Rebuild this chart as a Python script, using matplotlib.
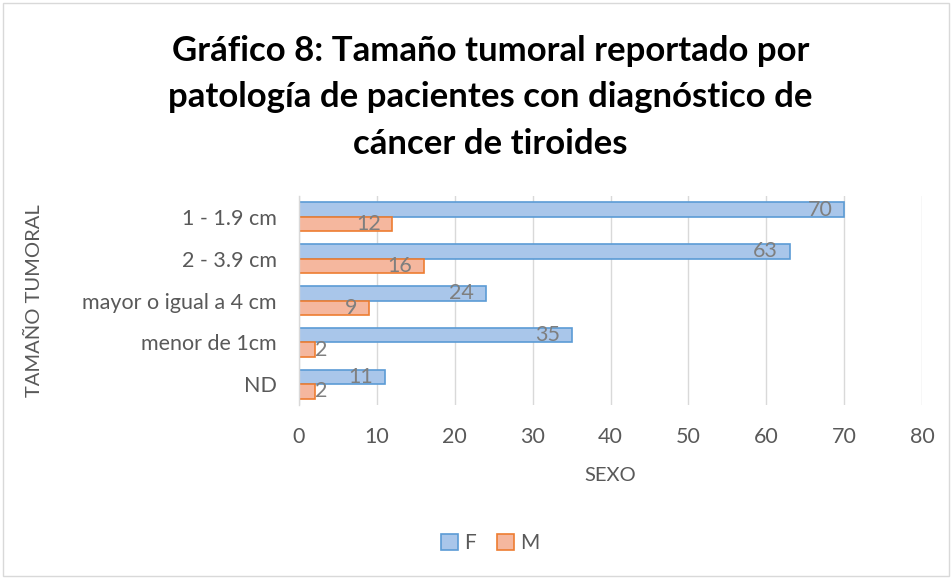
import numpy as np
import matplotlib
matplotlib.use("Agg")
import matplotlib.pyplot as plt
from matplotlib.patches import Rectangle, Patch

plt.rcParams["font.family"] = ["Lato", "DejaVu Sans"]

categories = ["1 - 1.9 cm", "2 - 3.9 cm", "mayor o igual a 4 cm", "menor de 1cm", "ND"]
f_values = [70, 63, 24, 35, 11]
m_values = [12, 16, 9, 2, 2]
series_names = ["F", "M"]
x_ticks = [0, 10, 20, 30, 40, 50, 60, 70, 80]

title = ("Gráfico 8: Tamaño tumoral reportado por\n"
         "patología de pacientes con diagnóstico de\n"
         "cáncer de tiroides")

GREY = "#595959"
LABEL_GREY = "#7f7f7f"
BLUE_FILL, BLUE_EDGE = "#a9c6ea", "#5b9bd5"
ORANGE_FILL, ORANGE_EDGE = "#f5b79e", "#ed7d31"

fig = plt.figure(figsize=(9.52, 5.78), dpi=100)
fig.patches.append(Rectangle((0.003, 0.004), 0.994, 0.99, transform=fig.transFigure,
                             fill=False, edgecolor="#d9d9d9", linewidth=1.0))

ax = fig.add_axes([0.3141, 0.2993, 0.6544, 0.3616])

y = np.arange(len(categories))
h = 0.347
ax.barh(y - h / 2, f_values, height=h, color=BLUE_FILL,
        edgecolor=BLUE_EDGE, linewidth=1.2, zorder=3)
ax.barh(y + h / 2, m_values, height=h, color=ORANGE_FILL,
        edgecolor=ORANGE_EDGE, linewidth=1.2, zorder=3)

ax.set_xlim(0, 80)
ax.set_ylim(len(categories) - 0.5, -0.5)
ax.set_xticks(x_ticks)
ax.set_yticks(y)
ax.set_yticklabels(categories)
ax.tick_params(axis="both", length=0, labelsize=15.5, labelcolor=GREY)
ax.tick_params(axis="x", pad=16)
ax.tick_params(axis="y", pad=16)
ax.grid(axis="x", color="#d9d9d9", linewidth=1.0, zorder=0)
for side in ["top", "right", "bottom"]:
    ax.spines[side].set_visible(False)
ax.spines["left"].set_color("#d9d9d9")
ax.spines["left"].set_linewidth(1.0)
ax.spines["left"].set_zorder(4)

ax.set_xlabel("SEXO", fontsize=14.5, color=GREY, labelpad=14)
ax.set_ylabel("TAMAÑO TUMORAL", fontsize=14.5, color=GREY, labelpad=28)

# data labels, "inside end" like Excel
for yy, vals in [(y - h / 2, f_values), (y + h / 2, m_values)]:
    for yi, v in zip(yy, vals):
        if v >= 5:
            ax.text(v - 1.5, yi, str(v), ha="right", va="center",
                    fontsize=15.5, color=LABEL_GREY, zorder=5)
        else:
            ax.text(v + 0.1, yi, str(v), ha="left", va="center",
                    fontsize=15.5, color=LABEL_GREY, zorder=5)

fig.text(0.515, 0.832, title, ha="center", va="center", fontsize=25,
         fontweight="bold", color="black", linespacing=1.56)

handles = [Patch(facecolor=BLUE_FILL, edgecolor=BLUE_EDGE, linewidth=1.2),
           Patch(facecolor=ORANGE_FILL, edgecolor=ORANGE_EDGE, linewidth=1.2)]
fig.legend(handles, series_names, loc="center", bbox_to_anchor=(0.515, 0.06),
           ncol=2, frameon=False, fontsize=15, handlelength=0.8,
           handleheight=0.8, handletextpad=0.3, columnspacing=1.0,
           labelcolor=GREY)

fig.savefig("out.png", dpi=100)
